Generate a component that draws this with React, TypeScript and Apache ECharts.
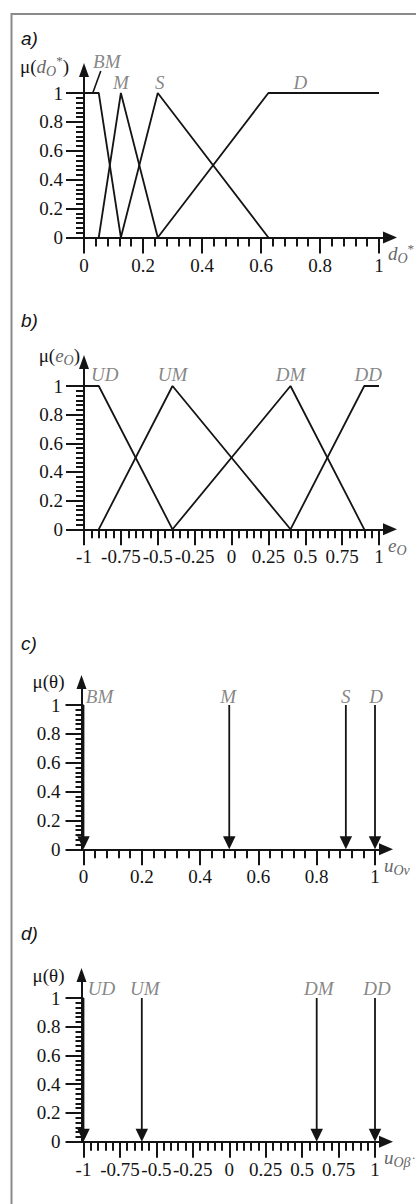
import React, { useEffect, useRef } from 'react';
import * as echarts from 'echarts';

// ---------- data ----------
// a) membership functions of d_O*
const setsA = ['BM', 'M', 'S', 'D'];
const bmA = [[0, 1], [0.05, 1], [0.125, 0]];
const mA = [[0.05, 0], [0.125, 1], [0.25, 0]];
const sA = [[0.125, 0], [0.25, 1], [0.625, 0]];
const dA = [[0.25, 0], [0.625, 1], [1, 1]];
const xTicksA = { min: 0, max: 1, step: 0.2, minor: 5 };

// b) membership functions of e_O
const setsB = ['UD', 'UM', 'DM', 'DD'];
const udB = [[-1, 1], [-0.9, 1], [-0.4, 0]];
const umB = [[-0.9, 0], [-0.4, 1], [0.4, 0]];
const dmB = [[-0.4, 0], [0.4, 1], [0.9, 0]];
const ddB = [[0.4, 0], [0.9, 1], [1, 1]];
const xTicksB = { min: -1, max: 1, step: 0.25, minor: 5 };

// c) singletons of u_Ov
const setsC = ['BM', 'M', 'S', 'D'];
const singletonsC = [0, 0.5, 0.9, 1];
const xTicksC = { min: 0, max: 1, step: 0.2, minor: 5 };

// d) singletons of u_Oβ
const setsD = ['UD', 'UM', 'DM', 'DD'];
const singletonsD = [-1, -0.6, 0.6, 1];
const xTicksD = { min: -1, max: 1, step: 0.25, minor: 5 };

const yTicks = { min: 0, max: 1, step: 0.2, minor: 6 };

// ---------- styles / layout ----------
const SERIF = 'Liberation Serif';
const SANS = 'Liberation Sans';
const INK = '#141414';
const GRAY = '#666666';

const rich: any = {
  n: { fontFamily: SERIF, fontSize: 19, color: INK },
  i: { fontFamily: SERIF, fontSize: 19, fontStyle: 'italic', color: GRAY },
  sub: { fontFamily: SERIF, fontSize: 14, fontStyle: 'italic', color: GRAY, padding: [10, 0, 0, 0] },
  sup: { fontFamily: SERIF, fontSize: 13, color: GRAY, padding: [0, 0, 11, 0] },
};

const LAYOUT = [
  { left: 84, top: 93, width: 295, height: 144.5, axisLeft: 84, arrowTop: 70, arrowEnd: 390, title: 'a)', titleY: 38.5,
    yName: '{n|μ(}{i|d}{sub|O}{sup|*}{n|)}', xName: '{i|d}{sub|O}{sup|*}', yNamePad: 15, yNameGap: 4, yLabMargin: 21,
    labelDist: 1, offsets: [[8, -21], [0, 0], [2, 0], [32, 0]] },
  { left: 84, top: 386, width: 295, height: 143.3, axisLeft: 84, arrowTop: 362, arrowEnd: 390, title: 'b)', titleY: 320.5,
    yName: '{n|μ(}{i|e}{sub|O}{n|)}', xName: '{i|e}{sub|O}', yNamePad: 4, yNameGap: 7, yLabMargin: 21,
    labelDist: 2, offsets: [[6, 0], [0, 0], [0, 0], [4, 0]] },
  { left: 83.5, top: 705, width: 291.5, height: 144.3, axisLeft: 81.5, arrowTop: 682, arrowEnd: 386, title: 'c)', titleY: 643,
    yName: '{n|μ(θ)}', xName: '{i|u}{sub|Ov}', yNamePad: 17, yNameGap: 1, yLabMargin: 23,
    labelDist: -1, offsets: [[16, 0], [-1, 0], [0, 0], [1, 0]] },
  { left: 83.5, top: 998, width: 291.5, height: 143.7, axisLeft: 81.5, arrowTop: 975, arrowEnd: 386, title: 'd)', titleY: 933.5,
    yName: '{n|μ(θ)}', xName: '{i|u}{sub|Oβ̇}', yNamePad: 17, yNameGap: 0, yLabMargin: 23,
    labelDist: 0, offsets: [[18, 0], [3, 0], [2, 0], [2, 0]] },
];

const PANELS: any[] = [
  { sets: setsA, curves: [bmA, mA, sA, dA], x: xTicksA },
  { sets: setsB, curves: [udB, umB, dmB, ddB], x: xTicksB },
  { sets: setsC, singletons: singletonsC, x: xTicksC },
  { sets: setsD, singletons: singletonsD, x: xTicksD },
];

function anchorOf(points: number[][]) {
  const ones = points.filter((p) => p[1] === 1);
  if (ones.length > 1 && ones[0][0] === points[0][0]) return ones[ones.length - 1];
  return ones[0];
}

function buildOption() {
  const grid: any[] = [];
  const xAxis: any[] = [];
  const yAxis: any[] = [];
  const series: any[] = [];
  const tickLine = { color: INK, width: 2 };

  PANELS.forEach((p, i) => {
    const L = LAYOUT[i];
    const gA = 2 * i;
    const gB = 2 * i + 1;
    const bottom = L.top + L.height;
    grid.push({ left: L.left, top: L.top, width: L.width, height: L.height });
    grid.push({ left: L.axisLeft, top: L.arrowTop, width: L.arrowEnd - L.axisLeft, height: bottom - L.arrowTop });

    xAxis.push({
      gridIndex: gA, type: 'value', min: p.x.min, max: p.x.max, interval: p.x.step,
      axisLine: { show: false, onZero: false },
      axisTick: { show: true, length: 16, lineStyle: tickLine },
      minorTick: { show: true, splitNumber: p.x.minor, length: 9, lineStyle: tickLine },
      splitLine: { show: false }, minorSplitLine: { show: false },
      axisLabel: { margin: 18, fontFamily: SERIF, fontSize: 19, color: INK },
    });
    xAxis.push({
      gridIndex: gB, type: 'value', min: 0, max: 1,
      axisLine: { show: true, onZero: false, symbol: ['none', 'triangle'], symbolSize: [12, 14], lineStyle: tickLine },
      axisTick: { show: false }, axisLabel: { show: false }, splitLine: { show: false },
      name: L.xName, nameLocation: 'end', nameGap: -2,
      nameTextStyle: { align: 'left', verticalAlign: 'top', padding: [4, 0, 0, 0], rich },
    });
    yAxis.push({
      gridIndex: gA, type: 'value', min: yTicks.min, max: yTicks.max, interval: yTicks.step,
      axisLine: { show: false, onZero: false },
      axisTick: { show: true, length: 18, lineStyle: tickLine },
      minorTick: { show: true, splitNumber: yTicks.minor, length: 8, lineStyle: tickLine },
      splitLine: { show: false }, minorSplitLine: { show: false },
      axisLabel: { margin: L.yLabMargin, fontFamily: SERIF, fontSize: 19, color: INK },
    });
    yAxis.push({
      gridIndex: gB, type: 'value', min: 0, max: 1,
      axisLine: { show: true, onZero: false, symbol: ['none', 'triangle'], symbolSize: [10, 14], lineStyle: tickLine },
      axisTick: { show: false }, axisLabel: { show: false }, splitLine: { show: false },
      name: L.yName, nameLocation: 'end', nameGap: L.yNameGap,
      nameTextStyle: { align: 'right', verticalAlign: 'middle', padding: [0, L.yNamePad, 0, 0], rich },
    });

    let anchors: number[][];
    if (p.curves) {
      p.curves.forEach((c: number[][], k: number) => {
        series.push({
          type: 'line', name: p.sets[k], xAxisIndex: gA, yAxisIndex: gA, data: c,
          showSymbol: false, symbol: 'none', clip: false, silent: true,
          lineStyle: { color: INK, width: 1.8 },
        });
      });
      anchors = p.curves.map((c: number[][]) => anchorOf(c));
    } else {
      series.push({
        type: 'custom', xAxisIndex: gA, yAxisIndex: gA, clip: false, silent: true,
        data: p.singletons.map((v: number) => [v, 1]),
        renderItem: (_params: any, api: any) => {
          const v = api.value(0);
          const top = api.coord([v, api.value(1)]);
          const bot = api.coord([v, 0]);
          const w = 12.5, h = 13;
          return {
            type: 'group',
            children: [
              { type: 'line', shape: { x1: top[0], y1: top[1], x2: bot[0], y2: bot[1] - h + 1 }, style: { stroke: INK, lineWidth: 1.8 } },
              { type: 'polygon', shape: { points: [[bot[0] - w / 2, bot[1] - h], [bot[0] + w / 2, bot[1] - h], [bot[0], bot[1]]] }, style: { fill: INK } },
            ],
          };
        },
      });
      anchors = p.singletons.map((v: number) => [v, 1]);
    }
    series.push({
      type: 'scatter', xAxisIndex: gA, yAxisIndex: gA, symbolSize: 0, clip: false, silent: true,
      data: p.sets.map((name: string, k: number) => ({ name, value: anchors[k], label: { offset: L.offsets[k] } })),
      label: {
        show: true, position: 'top', distance: L.labelDist, formatter: '{b}',
        fontFamily: SERIF, fontStyle: 'italic', fontSize: 19, color: GRAY,
      },
    });
  });

  const graphic: any[] = [
    { id: 'frame', type: 'polyline', silent: true, shape: { points: [[11.5, 1210], [11.5, 14], [420, 14]] }, style: { stroke: '#8a8a8a', lineWidth: 2, fill: null } },
    ...LAYOUT.map((L, i) => ({
      id: 'title' + i, type: 'text', x: 21, y: L.titleY, silent: true,
      style: { text: L.title, fontFamily: SANS, fontStyle: 'italic', fontSize: 19, fill: INK, verticalAlign: 'middle', align: 'left' },
    })),
  ];

  return { animation: false, backgroundColor: '#ffffff', grid, xAxis, yAxis, series, graphic };
}

export default function App() {
  const ref = useRef<HTMLDivElement>(null);
  useEffect(() => {
    const el = ref.current;
    if (!el) return;
    const chart = echarts.init(el, undefined, { renderer: 'svg' });
    chart.setOption(buildOption());
    // leader line from the BM plateau to its label (panel a)
    const a = chart.convertToPixel({ gridIndex: 0 } as any, anchorOf(bmA)) as number[];
    if (a) {
      chart.setOption({
        graphic: [
          { id: 'bmLeader', type: 'line', silent: true, shape: { x1: a[0] - 6, y1: a[1], x2: a[0] + 2, y2: a[1] - 22 }, style: { stroke: INK, lineWidth: 1.6 } },
        ],
      });
    }
    return () => chart.dispose();
  }, []);
  return <div ref={ref} style={{ position: 'absolute', left: 0, top: 0, width: 416, height: 1204, background: '#fff' }} />;
}
